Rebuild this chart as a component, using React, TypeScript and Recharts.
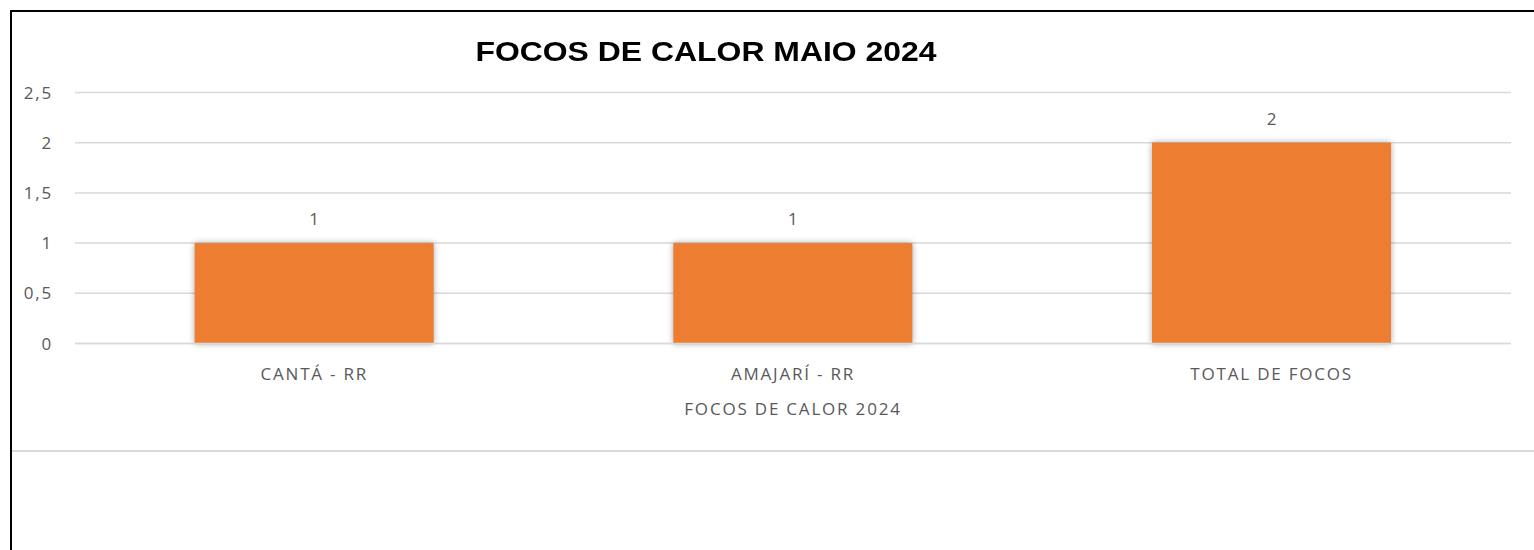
import { BarChart, Bar, XAxis, YAxis, CartesianGrid, LabelList, Label } from "recharts";

const categories = ["CANTÁ - RR", "AMAJARÍ - RR", "TOTAL DE FOCOS"];
const focos = [1, 1, 2];
const yTicks = [0, 0.5, 1, 1.5, 2, 2.5];

const data = categories.map((name, i) => ({ name, focos: focos[i] }));

const TEXT = "#595959";
const FONT = "'Open Sans', sans-serif";
const tickStyle = { fontSize: 17, fill: TEXT, fontFamily: FONT, letterSpacing: 1.8 };

function ShadowBar(props: any) {
  const { x, y, width, height, fill } = props;
  return (
    <rect
      x={x}
      y={y}
      width={width}
      height={height}
      fill={fill}
      style={{ filter: "drop-shadow(0px 0px 3px rgba(0,0,0,0.35))" }}
    />
  );
}

export default function App() {
  return (
    <div
      style={{
        position: "absolute",
        left: 0,
        top: 0,
        width: 1534,
        height: 550,
        background: "#fff",
        overflow: "hidden",
      }}
    >
      {/* frame */}
      <div
        style={{
          position: "absolute",
          left: 10,
          top: 10,
          right: -10,
          bottom: -10,
          borderLeft: "2px solid #000",
          borderTop: "2px solid #000",
        }}
      />
      <div
        style={{
          position: "absolute",
          left: 12,
          top: 450,
          right: 0,
          height: 2,
          background: "#d9d9d9",
        }}
      />
      <div
        style={{
          position: "absolute",
          left: 406,
          width: 600,
          top: 38,
          textAlign: "center",
          fontFamily: "'Liberation Sans', Arial, sans-serif",
          fontWeight: "bold",
          fontSize: 28,
          lineHeight: "28px",
          color: "#000",
          transform: "scaleX(1.14)",
        }}
      >
        FOCOS DE CALOR MAIO 2024
      </div>
      <div style={{ position: "absolute", left: 0, top: 0 }}>
        <BarChart
          width={1534}
          height={550}
          data={data}
          barCategoryGap="25%"
          margin={{ top: 92.5, right: 23, bottom: 130.5, left: 35 }}
        >
          <CartesianGrid vertical={false} stroke="#d9d9d9" strokeWidth={1.5} />
          <XAxis
            dataKey="name"
            axisLine={{ stroke: "#d9d9d9", strokeWidth: 1.5 }}
            tickLine={false}
            tickSize={0}
            tickMargin={24}
            height={76}
            tick={tickStyle}
          >
            <Label
              value="FOCOS DE CALOR 2024"
              position="insideBottom"
              offset={5}
              style={{ fontSize: 17, fill: TEXT, fontFamily: FONT, letterSpacing: 1.8 }}
            />
          </XAxis>
          <YAxis
            width={40}
            domain={[0, 2.5]}
            ticks={yTicks}
            axisLine={false}
            tickLine={false}
            tickSize={0}
            tickMargin={22}
            tick={tickStyle}
            tickFormatter={(v: number) => v.toString().replace(".", ",")}
          />
          <Bar dataKey="focos" fill="#ED7D31" isAnimationActive={false} shape={ShadowBar}>
            <LabelList
              dataKey="focos"
              position="top"
              offset={18}
              style={{ fontSize: 17, fill: TEXT, fontFamily: FONT }}
            />
          </Bar>
        </BarChart>
      </div>
    </div>
  );
}
